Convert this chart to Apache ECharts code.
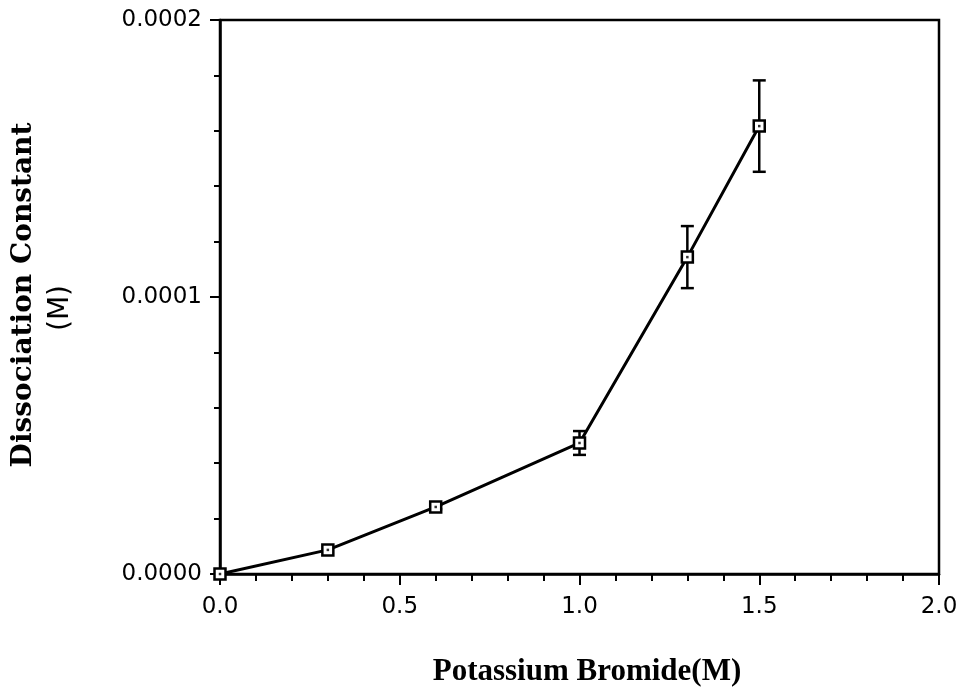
<!DOCTYPE html>
<html><head><meta charset="utf-8">
<script src="https://cdn.jsdelivr.net/npm/echarts@6/dist/echarts.min.js"></script>
<style>html,body{margin:0;padding:0;background:#fff}#c{width:961px;height:696px}</style>
</head><body><div id="c"></div>
<script>
var kbr = [0, 0.3, 0.6, 1.0, 1.3, 1.5];
var kd = [0, 0.0000087, 0.0000242, 0.0000473, 0.0001144, 0.0001617];
var kdErr = [0, 0, 0.0000008, 0.0000043, 0.0000112, 0.0000165];
var xTicks = [0, 0.5, 1.0, 1.5, 2.0];
var yTicks = [0, 0.0001, 0.0002];

var pts = kbr.map(function (x, i) { return [x, kd[i]]; });
var errData = kbr.map(function (x, i) { return [x, kd[i] - kdErr[i], kd[i] + kdErr[i]]; });

var chart = echarts.init(document.getElementById('c'));
chart.setOption({
  animation: false,
  backgroundColor: '#fff',
  grid: { left: 220, top: 20, width: 719, height: 554, show: true, borderColor: '#000', borderWidth: 2.5, backgroundColor: 'transparent' },
  xAxis: {
    type: 'value', min: xTicks[0], max: xTicks[xTicks.length - 1], interval: 0.5,
    axisLine: { lineStyle: { color: '#000', width: 2.5 } },
    axisTick: { show: true, inside: false, length: 11, lineStyle: { color: '#000', width: 2 } },
    minorTick: { show: true, splitNumber: 5, length: 7, lineStyle: { color: '#000', width: 2 } },
    splitLine: { show: false },
    axisLabel: { margin: 22, color: '#000', fontFamily: 'DejaVu Sans', fontWeight: 'normal', fontSize: 23,
      formatter: function (v) { return v.toFixed(1); } }
  },
  yAxis: {
    type: 'value', min: yTicks[0], max: yTicks[yTicks.length - 1], interval: 0.0001,
    axisLine: { lineStyle: { color: '#000', width: 2.5 } },
    axisTick: { show: true, inside: false, length: 10, lineStyle: { color: '#000', width: 2 } },
    minorTick: { show: true, splitNumber: 5, length: 6, lineStyle: { color: '#000', width: 2 } },
    splitLine: { show: false },
    axisLabel: { margin: 18, color: '#000', fontFamily: 'DejaVu Sans', fontWeight: 'normal', fontSize: 23,
      formatter: function (v) { return v.toFixed(4); } }
  },
  graphic: [
    { type: 'text', rotation: Math.PI / 2, x: 24, y: 295, style: { text: 'Dissociation Constant', font: 'bold 28px "DejaVu Serif"', fill: '#000', textAlign: 'center', textVerticalAlign: 'middle' } },
    { type: 'text', rotation: Math.PI / 2, x: 61, y: 308, style: { text: '(M)', font: '28px "DejaVu Sans"', fill: '#000', textAlign: 'center', textVerticalAlign: 'middle' } },
    { type: 'text', x: 587, y: 672, style: { text: 'Potassium Bromide(M)', font: 'bold 31px "Liberation Serif"', fill: '#000', textAlign: 'center', textVerticalAlign: 'middle' } }
  ],
  series: [
    {
      type: 'custom', data: errData, z: 3,
      renderItem: function (params, api) {
        var x = api.value(0), lo = api.value(1), hi = api.value(2);
        if (hi - lo <= 0) return null;
        var a = api.coord([x, lo]), b = api.coord([x, hi]);
        var w = 6.5, st = { stroke: '#000', lineWidth: 2.5 };
        return { type: 'group', children: [
          { type: 'line', shape: { x1: a[0], y1: a[1], x2: b[0], y2: b[1] }, style: st },
          { type: 'line', shape: { x1: a[0] - w, y1: a[1], x2: a[0] + w, y2: a[1] }, style: st },
          { type: 'line', shape: { x1: b[0] - w, y1: b[1], x2: b[0] + w, y2: b[1] }, style: st }
        ] };
      }
    },
    {
      type: 'line', data: pts, z: 4, symbol: 'rect', symbolSize: 11, showSymbol: true,
      lineStyle: { color: '#000', width: 3 },
      itemStyle: { color: '#fff', borderColor: '#000', borderWidth: 2.5 }
    },
    {
      type: 'scatter', data: pts, z: 5, symbol: 'rect', symbolSize: 2.5,
      itemStyle: { color: '#000' }
    }
  ]
});
</script></body></html>
